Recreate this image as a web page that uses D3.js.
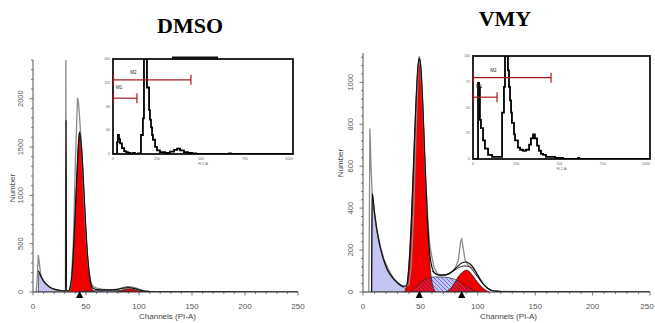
<!DOCTYPE html>
<html>
<head>
<meta charset="utf-8">
<script src="https://cdn.jsdelivr.net/npm/d3@7"></script>
<style>
  body { margin: 0; background: #fff; }
  svg { display: block; }
  text { font-family: "Liberation Sans", Arial, sans-serif; }
</style>
</head>
<body>
<svg id="canvas" width="655" height="323"></svg>
<script>
// ---- data ----
const titles = ["DMSO", "VMY"];
const xTicks = [0, 50, 100, 150, 200, 250];
const dmsoYTicks = [0, 500, 1000, 1500, 2000];
const vmyYTicks = [0, 200, 400, 600, 800, 1000];
const xLabel = "Channels (PI-A)";
const yLabel = "Number";

// [channel, count]
const dmsoRaw = [[3,0],[4,150],[5,383],[6,300],[7,200],[8,160],[10,120],[12,90],[15,55],[18,35],[22,18],[26,10],[30,8],[30.6,10],[31,2450],[31.4,10],[34,10],[36,80],[38,500],[40,1350],[42,2010],[43,1950],[44,1800],[46,1450],[48,950],[50,560],[52,280],[54,130],[56,65],[60,40],[65,30],[70,25],[75,25],[80,30],[85,45],[88,55],[92,55],[96,45],[100,30],[104,15],[110,6],[120,3],[140,2],[250,0]];
const dmsoFit = [[5,220],[6,200],[8,150],[10,110],[13,75],[16,50],[20,30],[25,18],[30,12],[30.8,12],[31.2,1780],[31.6,12],[34,15],[35,50],[37,220],[39,620],[41,1120],[43,1560],[44,1656],[46,1460],[48,1060],[50,630],[52,310],[54,120],[56,45],[60,25],[70,22],[80,28],[85,40],[90,45],[95,38],[100,22],[105,10],[110,4],[120,1],[250,0]];
const dmsoDebris = [[5,0],[5.5,200],[7,170],[9,130],[12,85],[15,55],[20,30],[25,18],[30,12],[40,8],[50,5],[60,4],[70,3],[80,2],[100,1],[120,0]];
const dmsoG1 = [[33,0],[35,40],[37,200],[39,600],[41,1100],[43,1550],[44,1656],[46,1450],[48,1050],[50,620],[52,300],[54,110],[56,25],[58,0]];
const dmsoS = [[44,0],[50,10],[60,14],[75,15],[85,12],[92,0]];
const dmsoG2 = [[78,0],[82,10],[86,25],[90,32],[94,28],[98,15],[102,4],[106,0]];
const dmsoMeans = [44];

const vmyRaw = [[5,0],[5.5,300],[6,780],[7,600],[8,470],[10,380],[12,300],[15,220],[18,160],[22,110],[26,70],[30,45],[35,25],[40,35],[42,120],[44,360],[46,720],[48,1060],[49,1125],[50,1080],[52,880],[54,600],[56,380],[58,230],[60,167],[62,115],[65,85],[70,80],[75,85],[80,110],[83,150],[85,240],[86,252],[87,220],[89,150],[92,125],[96,110],[100,80],[104,45],[108,20],[112,8],[120,4],[140,2],[160,1],[250,0]];
const vmyFit = [[7.5,0],[8,470],[10,380],[12,300],[15,215],[18,155],[21,110],[25,75],[30,45],[35,28],[38,30],[40,130],[42,330],[44,610],[46,890],[48,1085],[49,1114],[50,1095],[52,910],[54,620],[56,370],[58,190],[60,120],[63,88],[67,80],[72,82],[77,95],[82,120],[86,138],[90,143],[94,130],[98,100],[102,60],[106,30],[110,12],[115,4],[125,1],[250,0]];
const vmyFit2 = [[60,100],[65,82],[70,80],[76,90],[82,112],[88,124],[92,122],[96,100],[100,70],[106,30],[112,8]];
const vmyDebris = [[7.5,0],[8,470],[10,375],[12,295],[15,210],[18,150],[21,105],[25,70],[30,40],[35,22],[40,14],[45,10],[50,7],[60,4],[70,2],[85,1],[100,0]];
const vmyG1 = [[36,0],[38,30],[40,120],[42,320],[44,600],[46,880],[48,1080],[49,1114],[50,1090],[52,900],[54,600],[56,340],[58,150],[60,50],[62,12],[64,0]];
const vmyS = [[42,0],[46,25],[50,45],[55,62],[60,70],[65,72],[70,71],[75,68],[80,60],[85,48],[90,30],[95,12],[100,0]];
const vmyG2 = [[72,0],[76,15],[80,45],[84,80],[88,100],[90,105],[92,100],[96,75],[100,45],[104,20],[108,5],[110,0]];
const vmyMeans = [49, 86];

// insets: [bin (0-1023), count]
const insetXTicks = [0, 250, 500, 750, 1000];
const dmsoInsetYTicks = [0, 40, 80, 120, 160];
const vmyInsetYTicks = [0, 25, 50, 75, 100];
const insetXLabel = "FL2-A";
const dmsoInset = [[0,0],[17,0],[23,20],[28,32],[34,25],[40,18],[51,10],[63,5],[74,3],[85,2],[97,1],[114,2],[125,0],[142,1],[159,32],[170,60],[176,200],[188,200],[193,112],[205,74],[210,58],[216,45],[222,32],[227,24],[239,12],[250,6],[267,3],[296,2],[324,4],[347,7],[364,9],[381,6],[403,3],[426,2],[449,1],[472,0],[659,1],[670,0],[1023,0]];
const vmyInset = [[0,0],[23,0],[29,74],[35,70],[40,38],[46,30],[58,18],[69,10],[87,4],[110,2],[133,2],[156,2],[168,45],[179,70],[185,100],[197,110],[202,86],[208,70],[214,57],[220,45],[225,35],[237,24],[243,18],[260,11],[272,9],[289,8],[306,9],[324,14],[335,20],[347,24],[358,20],[370,13],[381,8],[393,5],[405,4],[422,2],[445,2],[474,1],[503,1],[520,0],[607,1],[613,0],[1023,0]];
// gates: [label, end bin, count level]
const dmsoGates = [["M2", 443, 125], ["M1", 136, 94]];
const vmyGates = [["M2", 451, 79], ["M1", 139, 60]];
const dmsoInsetBar = [335, 597];

// ---- drawing ----
const svg = d3.select("svg#canvas");
const W = +svg.attr("width");
const defs = svg.append("defs");
const hatch = defs.append("pattern").attr("id", "hatch")
  .attr("patternUnits", "userSpaceOnUse").attr("width", 4).attr("height", 4);
hatch.append("path").attr("d", "M0,0 L4,4 M-1,3 L1,5 M3,-1 L5,1")
  .attr("stroke", "#5b5bd6").attr("stroke-width", 0.8);

const RED = "#f20000";
const LAV = "#c5c5f3";

function drawPanel(cfg) {
  const g = svg.append("g");
  const x = d3.scaleLinear().domain([0, 250]).range(cfg.xr);
  const y = d3.scaleLinear().domain([0, cfg.ymax]).range(cfg.yr);

  const clipId = "clip" + cfg.id;
  defs.append("clipPath").attr("id", clipId).append("rect")
    .attr("x", cfg.xr[0]).attr("y", cfg.yr[1])
    .attr("width", cfg.xr[1] - cfg.xr[0]).attr("height", cfg.yr[0] - cfg.yr[1]);
  const plot = g.append("g").attr("clip-path", `url(#${clipId})`);

  const area = d3.area().x((d) => x(d[0])).y0(y(0)).y1((d) => y(d[1])).curve(d3.curveMonotoneX);
  const line = d3.line().x((d) => x(d[0])).y((d) => y(d[1])).curve(d3.curveMonotoneX);
  const rawLine = d3.line().x((d) => x(d[0])).y((d) => y(d[1]));

  plot.append("path").attr("d", area(cfg.debris)).attr("fill", LAV).attr("stroke", "#222").attr("stroke-width", 0.7);
  plot.append("path").attr("d", area(cfg.s)).attr("fill", LAV);
  plot.append("path").attr("d", area(cfg.g1)).attr("fill", RED);
  plot.append("path").attr("d", area(cfg.g2)).attr("fill", RED);
  plot.append("path").attr("d", area(cfg.s)).attr("fill", "url(#hatch)").attr("stroke", "#222").attr("stroke-width", 0.7);
  plot.append("path").attr("d", line(cfg.g1)).attr("fill", "none").attr("stroke", "#222").attr("stroke-width", 0.8);
  plot.append("path").attr("d", line(cfg.g2)).attr("fill", "none").attr("stroke", "#222").attr("stroke-width", 0.8);

  plot.append("path").attr("d", rawLine(cfg.raw)).attr("fill", "none").attr("stroke", "#8a8a8a").attr("stroke-width", 1.3);
  if (cfg.fit2) plot.append("path").attr("d", line(cfg.fit2)).attr("fill", "none").attr("stroke", "#222").attr("stroke-width", 1);
  plot.append("path").attr("d", line(cfg.fit)).attr("fill", "none").attr("stroke", "#111").attr("stroke-width", 1.2);

  // axes
  const axisCol = "#555";
  g.append("line").attr("x1", x(0)).attr("x2", x(250)).attr("y1", y(0)).attr("y2", y(0)).attr("stroke", "#333").attr("stroke-width", 1.2);
  g.append("line").attr("x1", x(0)).attr("x2", x(0)).attr("y1", y(0)).attr("y2", cfg.yr[1]).attr("stroke", axisCol).attr("stroke-width", 1);

  const minorX = d3.range(0, 251, 10);
  g.selectAll(null).data(minorX).join("line")
    .attr("x1", (d) => x(d)).attr("x2", (d) => x(d))
    .attr("y1", y(0)).attr("y2", (d) => y(0) + (d % 50 === 0 ? 3.5 : 2))
    .attr("stroke", axisCol).attr("stroke-width", 0.8);
  g.selectAll(null).data(xTicks).join("text")
    .attr("x", (d) => Math.min(x(d), W - 8)).attr("y", 309).attr("text-anchor", "middle")
    .attr("font-size", 8).attr("fill", "#555").text((d) => d);

  const minorY = d3.range(0, cfg.ymax + 1, cfg.minor);
  g.selectAll(null).data(minorY).join("line")
    .attr("x1", (d) => x(0) - (cfg.yTicks.includes(d) ? 3.5 : 2)).attr("x2", x(0))
    .attr("y1", (d) => y(d)).attr("y2", (d) => y(d))
    .attr("stroke", axisCol).attr("stroke-width", 0.8);
  g.selectAll(null).data(cfg.yTicks).join("text")
    .attr("transform", (d) => `translate(${x(0) - 10},${y(d)}) rotate(-90)`)
    .attr("text-anchor", "middle").attr("font-size", 7.5).attr("fill", "#555").text((d) => d);

  g.append("text").attr("x", (cfg.xr[0] + cfg.xr[1]) / 2 + 2).attr("y", 319)
    .attr("text-anchor", "middle").attr("font-size", 8).attr("fill", "#444").text(xLabel);
  g.append("text").attr("transform", `translate(${cfg.ylab[0]},${cfg.ylab[1]}) rotate(-90)`)
    .attr("text-anchor", "middle").attr("font-size", 8).attr("fill", "#444").text(yLabel);

  // peak mean markers
  g.selectAll(null).data(cfg.means).join("path")
    .attr("d", (d) => `M${x(d)},${y(0) - 1}l3.6,7h-7.2z`).attr("fill", "#000");

  g.append("text").attr("x", cfg.title[0]).attr("y", cfg.title[1])
    .attr("text-anchor", "middle")
    .style("font-family", "'Liberation Serif','Times New Roman',serif")
    .attr("font-weight", "bold").attr("font-size", 22).attr("fill", "#000").text(cfg.name);

  drawInset(cfg.inset);
}

function drawInset(c) {
  const g = svg.append("g");
  const x = d3.scaleLinear().domain([0, 1023]).range(c.xr);
  const y = d3.scaleLinear().domain([0, c.ymax]).range(c.yr);
  const clipId = "iclip" + c.id;
  defs.append("clipPath").attr("id", clipId).append("rect")
    .attr("x", c.xr[0]).attr("y", c.yr[1]).attr("width", c.xr[1] - c.xr[0]).attr("height", c.yr[0] - c.yr[1]);

  g.append("rect").attr("x", c.xr[0]).attr("y", c.yr[1])
    .attr("width", c.xr[1] - c.xr[0]).attr("height", c.yr[0] - c.yr[1])
    .attr("fill", "#fff").attr("stroke", "#111").attr("stroke-width", 1.8);

  if (c.bar) g.append("rect").attr("x", x(c.bar[0])).attr("y", c.yr[1] - 2.5)
    .attr("width", x(c.bar[1]) - x(c.bar[0])).attr("height", 3).attr("fill", "#111");

  const step = d3.line().x((d) => x(d[0])).y((d) => y(d[1])).curve(d3.curveStepAfter);
  g.append("g").attr("clip-path", `url(#${clipId})`).append("path")
    .attr("d", step(c.data)).attr("fill", "none").attr("stroke", "#000").attr("stroke-width", 1.8);

  // gates
  const red = "#a31c1c";
  c.gates.forEach(([lab, end, lvl], i) => {
    const yy = y(lvl);
    g.append("line").attr("x1", x(0)).attr("x2", x(end)).attr("y1", yy).attr("y2", yy).attr("stroke", red).attr("stroke-width", 1.2);
    g.append("line").attr("x1", x(end)).attr("x2", x(end)).attr("y1", yy - 5).attr("y2", yy + 5).attr("stroke", red).attr("stroke-width", 1.2);
    g.append("line").attr("x1", x(0) + 0.5).attr("x2", x(0) + 0.5).attr("y1", yy - 5).attr("y2", yy + 5).attr("stroke", red).attr("stroke-width", 1.2);
    g.append("text").attr("x", i === 0 ? x(end * 0.22) : x(0) + 3).attr("y", yy - (i === 0 ? 6 : 9))
      .attr("font-size", 4.5).attr("fill", "#222").text(lab);
  });

  g.selectAll(null).data(insetXTicks).join("text")
    .attr("x", (d) => x(d)).attr("y", c.yr[0] + 6).attr("text-anchor", "middle")
    .attr("font-size", 3.5).attr("fill", "#666").text((d) => d);
  g.selectAll(null).data(c.yTicks).join("text")
    .attr("x", c.xr[0] - 3).attr("y", (d) => y(d) + 1.2).attr("text-anchor", "end")
    .attr("font-size", 3.5).attr("fill", "#666").text((d) => d);
  g.append("text").attr("x", (c.xr[0] + c.xr[1]) / 2).attr("y", c.yr[0] + 11)
    .attr("text-anchor", "middle").attr("font-size", 3.5).attr("fill", "#666").text(insetXLabel);
}

drawPanel({
  id: 0, name: titles[0], title: [190, 33],
  xr: [33, 298], yr: [292, 60], ymax: 2400, minor: 100, yTicks: dmsoYTicks, ylab: [15, 188],
  raw: dmsoRaw, fit: dmsoFit, debris: dmsoDebris, g1: dmsoG1, s: dmsoS, g2: dmsoG2, means: dmsoMeans,
  inset: { id: 0, xr: [113, 293], yr: [154, 59], ymax: 160, yTicks: dmsoInsetYTicks, data: dmsoInset, gates: dmsoGates, bar: dmsoInsetBar }
});
drawPanel({
  id: 1, name: titles[1], title: [505, 26],
  xr: [363, 650], yr: [292, 53], ymax: 1140, minor: 40, yTicks: vmyYTicks, ylab: [343, 163],
  raw: vmyRaw, fit: vmyFit, fit2: vmyFit2, debris: vmyDebris, g1: vmyG1, s: vmyS, g2: vmyG2, means: vmyMeans,
  inset: { id: 1, xr: [473, 650], yr: [159, 56], ymax: 100, yTicks: vmyInsetYTicks, data: vmyInset, gates: vmyGates }
});
</script>
</body>
</html>
